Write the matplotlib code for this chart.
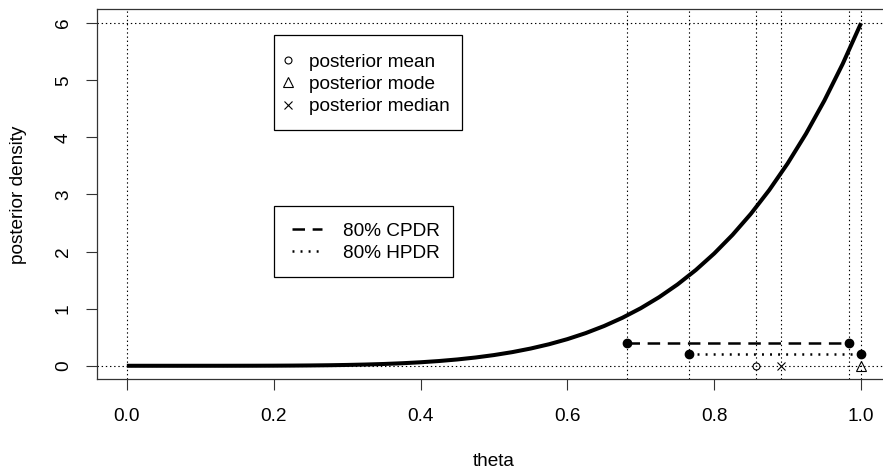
import matplotlib

matplotlib.use("Agg")

import matplotlib.pyplot as plt
from matplotlib.lines import Line2D
from matplotlib.patches import Rectangle

# posterior density curve
theta = [
    0.0, 0.025, 0.05, 0.075, 0.1, 0.125, 0.15, 0.175, 0.2, 0.225,
    0.25, 0.275, 0.3, 0.325, 0.35, 0.375, 0.4, 0.425, 0.45, 0.475,
    0.5, 0.525, 0.55, 0.575, 0.6, 0.625, 0.65, 0.675, 0.7, 0.725,
    0.75, 0.775, 0.8, 0.825, 0.85, 0.875, 0.9, 0.925, 0.95, 0.975, 1.0,
]
density = [
    0.0, 0.0, 0.0, 0.0, 0.0001, 0.0002, 0.0005, 0.001, 0.0019, 0.0035,
    0.0059, 0.0094, 0.0146, 0.0218, 0.0315, 0.0445, 0.0614, 0.0832, 0.1107, 0.1451,
    0.1875, 0.2393, 0.302, 0.3771, 0.4666, 0.5722, 0.6962, 0.8408, 1.0084, 1.2018,
    1.4238, 1.6775, 1.9661, 2.2931, 2.6622, 3.0775, 3.5429, 4.0631, 4.6427, 5.2866, 6.0,
]

post_mean = 0.857
post_mode = 1.0
post_median = 0.891
cpdr = [0.681, 0.983]
cpdr_level = 0.4
hpdr = [0.765, 1.0]
hpdr_level = 0.2

x_ticks = [0.0, 0.2, 0.4, 0.6, 0.8, 1.0]
x_tick_labels = ["0.0", "0.2", "0.4", "0.6", "0.8", "1.0"]
y_ticks = [0, 1, 2, 3, 4, 5, 6]

FS = 13.7
DOT = (0, (1.0, 2.0))
DASH = (0, (9.0, 5.5))
DOTTED_THICK = (0, (1.4, 4.4))

plt.rcParams["font.family"] = ["Liberation Sans", "DejaVu Sans"]
plt.rcParams["lines.scale_dashes"] = False

fig = plt.figure(figsize=(8.83, 4.72), dpi=100)
ax = fig.add_axes([0.1104, 0.196, 0.898, 0.784])

# reference lines
for x in [0.0, 1.0, cpdr[0], cpdr[1], hpdr[0], post_mean, post_median]:
    ax.axvline(x, color="black", lw=0.8, linestyle=DOT, zorder=1)
for y in [0, 6]:
    ax.axhline(y, color="black", lw=0.8, linestyle=DOT, zorder=1)

ax.plot(theta, density, color="black", lw=2.9, zorder=3, solid_capstyle="butt")

ax.plot(cpdr, [cpdr_level] * 2, color="black", lw=1.8, linestyle=DASH,
        marker="o", markersize=6, zorder=4)
ax.plot(hpdr, [hpdr_level] * 2, color="black", lw=1.8, linestyle=DOTTED_THICK,
        marker="o", markersize=6, zorder=4)

ax.plot([post_mean], [0], marker="o", mfc="none", mec="black", ms=5, mew=0.8, zorder=5)
ax.plot([post_mode], [0], marker="^", mfc="none", mec="black", ms=7, mew=0.8, zorder=5)
ax.plot([post_median], [0], marker="x", color="black", ms=6, mew=0.8, zorder=5)

ax.set_xlim(-0.04, 1.04)
ax.set_ylim(-0.24, 6.24)
ax.set_xticks(x_ticks)
ax.set_xticklabels(x_tick_labels)
ax.set_yticks(y_ticks)
ax.tick_params(axis="both", direction="out", length=7.9, width=0.8,
               labelsize=FS, color="#333333")
ax.tick_params(axis="x", pad=12.5)
ax.tick_params(axis="y", pad=10.5)
for lab in ax.get_yticklabels():
    lab.set_rotation(90)
    lab.set_va("center")
for s in ax.spines.values():
    s.set_color("#333333")
    s.set_linewidth(0.9)

ax.set_xlabel("theta", fontsize=FS, labelpad=20)
ax.set_ylabel("posterior density", fontsize=FS, labelpad=20)

# legend 1: point estimates
h1 = [
    Line2D([], [], ls="none", marker="o", mfc="none", mec="black", ms=5, mew=0.8),
    Line2D([], [], ls="none", marker="^", mfc="none", mec="black", ms=7, mew=0.8),
    Line2D([], [], ls="none", marker="x", color="black", ms=6, mew=0.8),
]
leg1 = ax.legend(h1, ["posterior mean", "posterior mode", "posterior median"],
                 loc="upper left", bbox_to_anchor=(0.2145, 5.47),
                 bbox_transform=ax.transData, frameon=False, fontsize=FS,
                 borderpad=0, borderaxespad=0, handlelength=0.4,
                 handletextpad=0.9, labelspacing=0.26)
ax.add_artist(leg1)
ax.add_patch(Rectangle((0.2, 4.137), 0.256, 1.647, fill=False,
                       edgecolor="black", lw=0.9, zorder=6))

# legend 2: intervals
h2 = [
    Line2D([], [], color="black", lw=1.8, linestyle=DASH),
    Line2D([], [], color="black", lw=1.8, linestyle=DOTTED_THICK),
]
ax.legend(h2, ["80% CPDR", "80% HPDR"], loc="upper left",
          bbox_to_anchor=(0.2245, 2.51), bbox_transform=ax.transData,
          frameon=False, fontsize=FS, borderpad=0, borderaxespad=0,
          handlelength=1.58, handletextpad=1.12, labelspacing=0.26)
ax.add_patch(Rectangle((0.2, 1.548), 0.244, 1.244, fill=False,
                       edgecolor="black", lw=0.9, zorder=6))

fig.savefig("out.png", dpi=100)
